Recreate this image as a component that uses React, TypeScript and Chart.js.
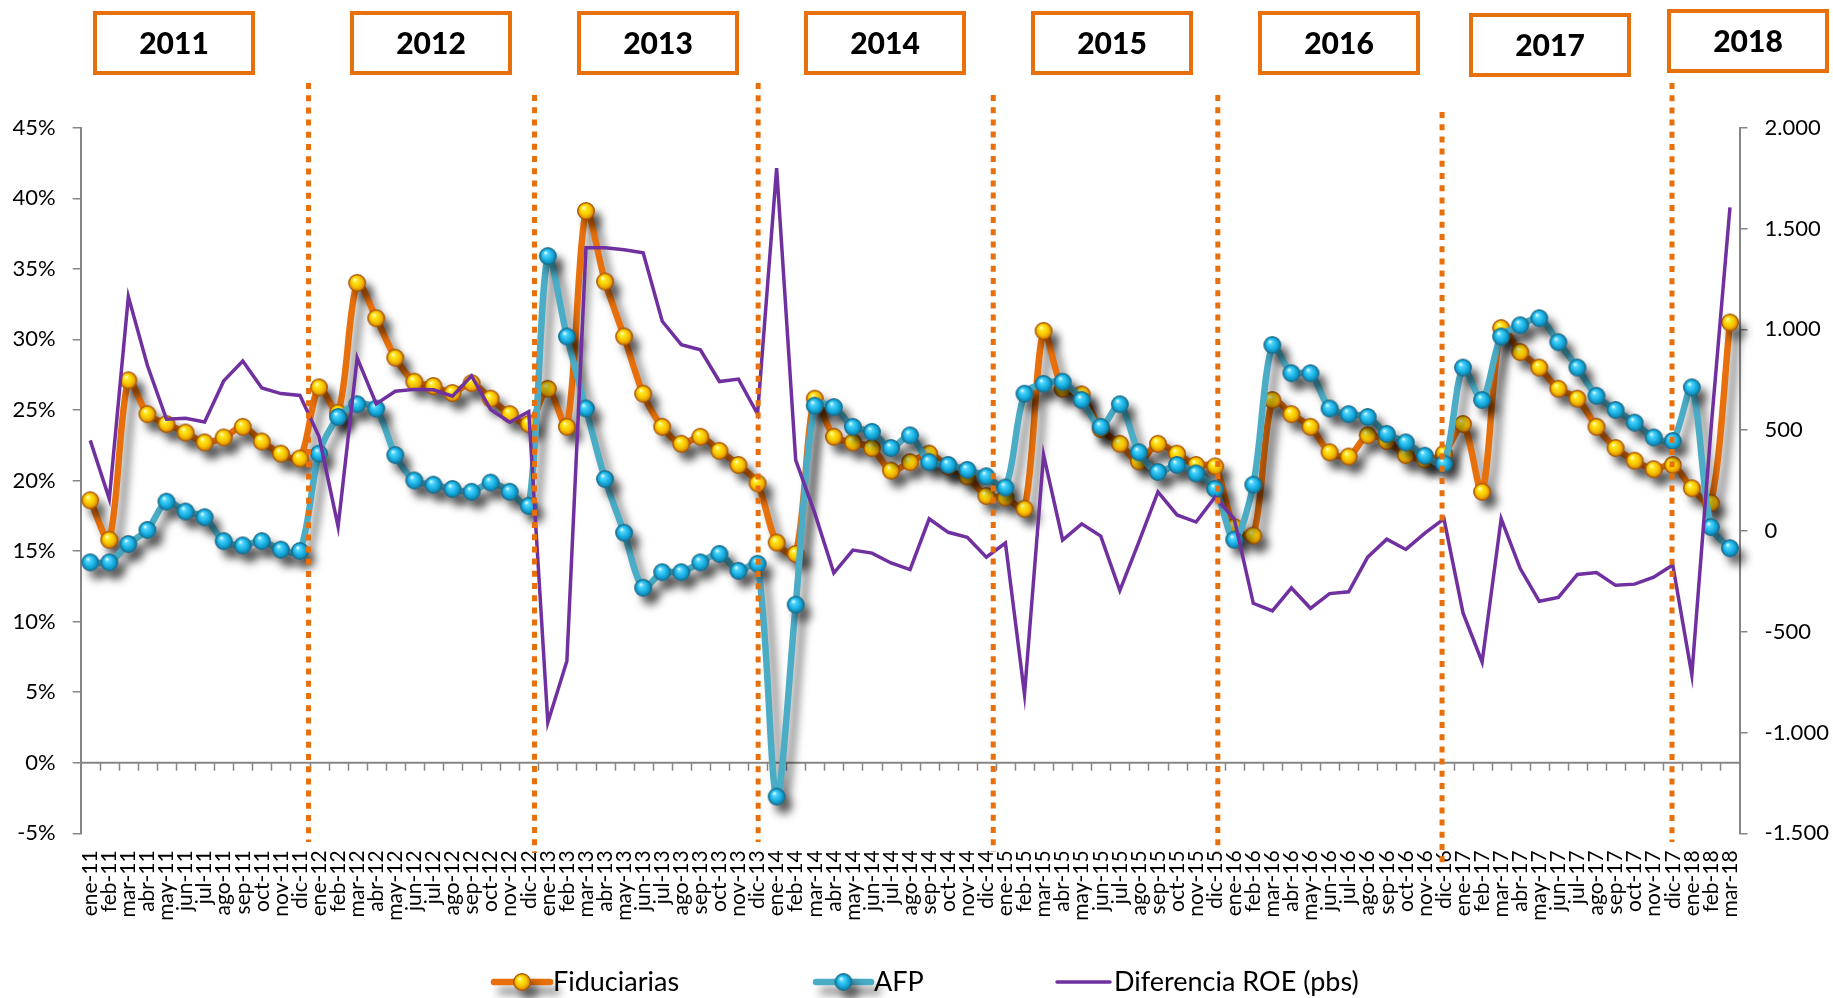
import React, { useEffect, useRef } from 'react';
import { Chart, registerables } from 'chart.js';

Chart.register(...registerables);

const categories = [
  'ene-11', 'feb-11', 'mar-11', 'abr-11', 'may-11', 'jun-11', 'jul-11', 'ago-11', 'sep-11', 'oct-11', 'nov-11', 'dic-11',
  'ene-12', 'feb-12', 'mar-12', 'abr-12', 'may-12', 'jun-12', 'jul-12', 'ago-12', 'sep-12', 'oct-12', 'nov-12', 'dic-12',
  'ene-13', 'feb-13', 'mar-13', 'abr-13', 'may-13', 'jun-13', 'jul-13', 'ago-13', 'sep-13', 'oct-13', 'nov-13', 'dic-13',
  'ene-14', 'feb-14', 'mar-14', 'abr-14', 'may-14', 'jun-14', 'jul-14', 'ago-14', 'sep-14', 'oct-14', 'nov-14', 'dic-14',
  'ene-15', 'feb-15', 'mar-15', 'abr-15', 'may-15', 'jun-15', 'jul-15', 'ago-15', 'sep-15', 'oct-15', 'nov-15', 'dic-15',
  'ene-16', 'feb-16', 'mar-16', 'abr-16', 'may-16', 'jun-16', 'jul-16', 'ago-16', 'sep-16', 'oct-16', 'nov-16', 'dic-16',
  'ene-17', 'feb-17', 'mar-17', 'abr-17', 'may-17', 'jun-17', 'jul-17', 'ago-17', 'sep-17', 'oct-17', 'nov-17', 'dic-17',
  'ene-18', 'feb-18', 'mar-18',
];

// Fiduciarias ROE (%), left axis
const fiduciarias = [
  18.6, 15.8, 27.1, 24.7, 24.0, 23.4, 22.7, 23.05, 23.8, 22.76, 21.9, 21.56,
  26.6, 24.8, 34.0, 31.5, 28.7, 27.0, 26.7, 26.2, 26.9, 25.8, 24.7, 24.0,
  26.5, 23.8, 39.1, 34.1, 30.2, 26.15, 23.8, 22.6, 23.1, 22.1, 21.1, 19.8,
  15.6, 14.8, 25.8, 23.1, 22.7, 22.3, 20.7, 21.3, 21.9, 21.0, 20.3, 18.9,
  18.8, 18.0, 30.6, 26.5, 26.1, 23.65, 22.6, 21.35, 22.6, 21.9, 21.1, 21.0,
  16.7, 16.1, 25.7, 24.7, 23.8, 22.0, 21.7, 23.2, 22.8, 21.8, 21.5, 21.9,
  24.0, 19.2, 30.8, 29.1, 28.0, 26.5, 25.8, 23.8, 22.3, 21.4, 20.8, 21.1,
  19.45, 18.4, 31.2,
];

// AFP ROE (%), left axis
const afp = [
  14.2, 14.2, 15.5, 16.5, 18.5, 17.8, 17.4, 15.7, 15.4, 15.7, 15.1, 15.0,
  21.9, 24.5, 25.4, 25.1, 21.8, 20.0, 19.7, 19.4, 19.2, 19.85, 19.2, 18.2,
  35.9, 30.2, 25.1, 20.1, 16.3, 12.4, 13.5, 13.5, 14.2, 14.8, 13.6, 14.1,
  -2.4, 11.2, 25.3, 25.2, 23.8, 23.45, 22.3, 23.2, 21.3, 21.1, 20.75, 20.3,
  19.5, 26.15, 26.85, 27.0, 25.7, 23.8, 25.4, 22.0, 20.6, 21.1, 20.5, 19.4,
  15.8, 19.7, 29.6, 27.6, 27.6, 25.1, 24.7, 24.5, 23.3, 22.7, 21.75, 21.2,
  28.0, 25.7, 30.2, 31.0, 31.5, 29.8, 28.0, 26.0, 25.0, 24.1, 23.05, 22.8,
  26.6, 16.7, 15.2,
];

// Diferencia ROE (pbs), right axis
const diferenciaRoe = [
  449, 159, 1162, 820, 554, 559, 540, 744, 843, 709, 681, 672,
  468, 22, 858, 630, 693, 702, 700, 668, 769, 602, 539, 592,
  -950, -645, 1404, 1404, 1395, 1380, 1040, 924, 898, 741, 753, 580,
  1800, 351, 88, -209, -95, -110, -159, -192, 60, -7, -32, -130,
  -60, -810, 377, -45, 35, -26, -296, -54, 193, 79, 44, 168,
  60, -359, -397, -283, -384, -311, -302, -130, -41, -92, -11, 60,
  -407, -650, 60, -187, -349, -330, -216, -207, -270, -264, -230, -169,
  -714, 500, 1605,
];

const yearLabels = ['2011', '2012', '2013', '2014', '2015', '2016', '2017', '2018'];

// ---- layout / style (decoration) ----
const ORANGE = '#E8700C';
const TEAL = '#4BACC6';
const PURPLE = '#7030A0';
const AXIS_GRAY = '#868686';
const FONT = 'Lato, "Open Sans", sans-serif';

const YEAR_BOX_LAYOUT = [
  { cx: 174, top: 13 },
  { cx: 431, top: 13 },
  { cx: 658, top: 13 },
  { cx: 885, top: 13 },
  { cx: 1112, top: 13 },
  { cx: 1339, top: 13 },
  { cx: 1550, top: 15 },
  { cx: 1748, top: 11 },
];
const BOX_W = 158;
const BOX_H = 60;

// year dividers: fractional category position, top and bottom pixel
const DIVIDERS = [
  { at: 11.45, top: 83, bottom: 842 },
  { at: 23.3, top: 95, bottom: 853 },
  { at: 35.03, top: 83, bottom: 842 },
  { at: 47.36, top: 95, bottom: 852 },
  { at: 59.14, top: 95, bottom: 852 },
  { at: 70.9, top: 112, bottom: 868 },
  { at: 82.96, top: 83, bottom: 842 },
];

function makeBall(stops: [number, string][], rim: string, r = 8.3) {
  const size = 20;
  const c = document.createElement('canvas');
  c.width = size;
  c.height = size;
  const g = c.getContext('2d')!;
  const cx = size / 2;
  const cy = size / 2;
  const grad = g.createRadialGradient(cx - r * 0.3, cy - r * 0.42, r * 0.05, cx, cy, r);
  stops.forEach(([o, col]) => grad.addColorStop(o, col));
  g.beginPath();
  g.arc(cx, cy, r, 0, Math.PI * 2);
  g.fillStyle = grad;
  g.fill();
  g.lineWidth = 1.3;
  g.strokeStyle = rim;
  g.stroke();
  return c;
}

function fmtThousands(v: number) {
  const s = Math.abs(v).toString().replace(/\B(?=(\d{3})+(?!\d))/g, '.');
  return (v < 0 ? '-' : '') + s;
}

export default function App() {
  const ref = useRef<HTMLCanvasElement>(null);

  useEffect(() => {
    document.body.style.margin = '0';
    const canvas = ref.current!;
    const yellowBall = makeBall(
      [[0, '#FFFDE0'], [0.22, '#FFEA20'], [0.65, '#F6C200'], [1, '#D27A00']],
      '#A85400'
    );
    const blueBall = makeBall(
      [[0, '#F0FCFF'], [0.22, '#4FD6FF'], [0.65, '#17AEE0'], [1, '#0A7AA6']],
      '#1D6C8A'
    );

    const setShadow = (ctx: CanvasRenderingContext2D) => {
      ctx.shadowColor = 'rgba(0,0,0,0.5)';
      ctx.shadowBlur = 8;
      ctx.shadowOffsetX = 7;
      ctx.shadowOffsetY = 9;
    };

    const decor = {
      id: 'decor',
      beforeDraw(chart: any) {
        const { ctx, width, height } = chart;
        ctx.save();
        ctx.fillStyle = '#ffffff';
        ctx.fillRect(0, 0, width, height);
        ctx.restore();
      },
      beforeDatasetsDraw(chart: any) {
        const { ctx, chartArea } = chart;
        const x = chart.scales.x;
        const y0 = chart.scales.y.getPixelForValue(0);
        ctx.save();
        ctx.strokeStyle = AXIS_GRAY;
        ctx.lineWidth = 2;
        ctx.beginPath();
        ctx.moveTo(chartArea.left, y0);
        ctx.lineTo(chartArea.right, y0);
        ctx.stroke();
        ctx.lineWidth = 1.5;
        ctx.beginPath();
        for (let k = 1; k < categories.length; k++) {
          const px = Math.round(x.getPixelForValue(k - 0.5)) + 0.5;
          ctx.moveTo(px, y0);
          ctx.lineTo(px, y0 + 8);
        }
        ctx.stroke();
        ctx.restore();
      },
      beforeDatasetDraw(chart: any, args: any) {
        if (args.index < 2) {
          chart.ctx.save();
          setShadow(chart.ctx);
        }
      },
      afterDatasetDraw(chart: any, args: any) {
        if (args.index < 2) chart.ctx.restore();
      },
      afterDraw(chart: any) {
        const { ctx } = chart;
        const x = chart.scales.x;
        // dotted year dividers
        ctx.save();
        ctx.strokeStyle = ORANGE;
        ctx.lineWidth = 5;
        ctx.setLineDash([6, 6.2]);
        DIVIDERS.forEach((d) => {
          const px = x.getPixelForValue(d.at);
          ctx.beginPath();
          ctx.moveTo(px, d.top);
          ctx.lineTo(px, d.bottom);
          ctx.stroke();
        });
        ctx.restore();

        // year boxes
        ctx.save();
        ctx.strokeStyle = ORANGE;
        ctx.lineWidth = 4;
        ctx.fillStyle = '#000';
        ctx.font = `900 30px ${FONT}`;
        ctx.textAlign = 'center';
        ctx.textBaseline = 'middle';
        yearLabels.forEach((label, i) => {
          const b = YEAR_BOX_LAYOUT[i];
          ctx.strokeRect(b.cx - BOX_W / 2, b.top, BOX_W, BOX_H);
          ctx.fillText(label, b.cx, b.top + BOX_H / 2 + 1);
        });
        ctx.restore();

        // legend
        const ly = 982;
        const items = [
          { label: chart.data.datasets[0].label, x1: 494, x2: 550, tx: 553, color: ORANGE, w: 6.5, ball: yellowBall },
          { label: chart.data.datasets[1].label, x1: 816, x2: 871, tx: 874, color: TEAL, w: 6.5, ball: blueBall },
          { label: chart.data.datasets[2].label, x1: 1057, x2: 1110, tx: 1114, color: PURPLE, w: 3.5, ball: null },
        ];
        ctx.save();
        items.forEach((it) => {
          ctx.save();
          if (it.ball) setShadow(ctx);
          ctx.strokeStyle = it.color;
          ctx.lineWidth = it.w;
          ctx.lineCap = 'round';
          ctx.beginPath();
          ctx.moveTo(it.x1, ly);
          ctx.lineTo(it.x2, ly);
          ctx.stroke();
          if (it.ball) {
            const cx = (it.x1 + it.x2) / 2;
            ctx.drawImage(it.ball, cx - it.ball.width / 2, ly - it.ball.height / 2);
          }
          ctx.restore();
          ctx.fillStyle = '#000';
          ctx.font = `27px ${FONT}`;
          ctx.textAlign = 'left';
          ctx.textBaseline = 'middle';
          ctx.fillText(it.label, it.tx, ly);
        });
        ctx.restore();
      },
    };

    const chart = new Chart(canvas, {
      type: 'line',
      data: {
        labels: categories,
        datasets: [
          {
            label: 'Fiduciarias',
            data: fiduciarias,
            yAxisID: 'y',
            borderColor: ORANGE,
            backgroundColor: ORANGE,
            borderWidth: 6.5,
            tension: 0.3,
            pointStyle: yellowBall as any,
            pointRadius: 8,
            order: 2,
          },
          {
            label: 'AFP',
            data: afp,
            yAxisID: 'y',
            borderColor: TEAL,
            backgroundColor: TEAL,
            borderWidth: 6.5,
            tension: 0.3,
            pointStyle: blueBall as any,
            pointRadius: 8,
            order: 1,
          },
          {
            label: 'Diferencia ROE (pbs)',
            data: diferenciaRoe,
            yAxisID: 'y1',
            borderColor: PURPLE,
            backgroundColor: PURPLE,
            borderWidth: 3.5,
            tension: 0,
            pointRadius: 0,
            order: 0,
          },
        ],
      },
      options: {
        responsive: false,
        animation: false,
        devicePixelRatio: 1,
        layout: { padding: { top: 127.7, left: 0, right: 0, bottom: 0 } },
        plugins: {
          legend: { display: false },
          tooltip: { enabled: false },
        },
        scales: {
          x: {
            type: 'category',
            offset: true,
            grid: { display: false, drawTicks: false },
            border: { display: false },
            ticks: {
              autoSkip: false,
              minRotation: 90,
              maxRotation: 90,
              padding: 17,
              color: '#000',
              font: { family: FONT, size: 21 },
            },
            afterFit: (scale: any) => {
              scale.height = 164.7;
            },
          },
          y: {
            position: 'left',
            min: -5,
            max: 45,
            ticks: {
              stepSize: 5,
              padding: 17,
              color: '#000',
              font: { family: FONT, size: 22 },
              callback: (v: any) => `${v}%`,
            },
            grid: { drawOnChartArea: false, drawTicks: true, tickLength: 8, color: AXIS_GRAY, lineWidth: 1.5 },
            border: { display: true, color: AXIS_GRAY, width: 2 },
            afterFit: (scale: any) => {
              scale.width = 80.7;
            },
          },
          y1: {
            position: 'right',
            min: -1500,
            max: 2000,
            ticks: {
              stepSize: 500,
              padding: 17,
              color: '#000',
              font: { family: FONT, size: 22 },
              callback: (v: any) => fmtThousands(Number(v)),
            },
            grid: { drawOnChartArea: false, drawTicks: true, tickLength: 8, color: AXIS_GRAY, lineWidth: 1.5 },
            border: { display: true, color: AXIS_GRAY, width: 2 },
            afterFit: (scale: any) => {
              scale.width = 93.5;
            },
          },
        },
      },
      plugins: [decor],
    } as any);

    return () => chart.destroy();
  }, []);

  return (
    <canvas
      ref={ref}
      width={1833}
      height={998}
      style={{ display: 'block', width: '1833px', height: '998px' }}
    />
  );
}
